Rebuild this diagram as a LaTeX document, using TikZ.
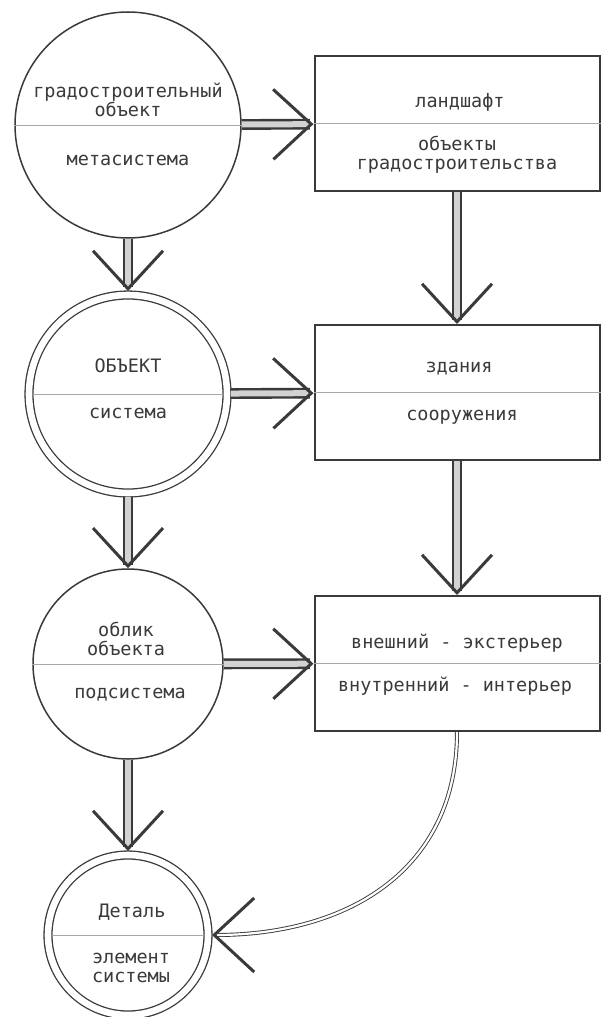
\documentclass[tikz,border=0pt]{standalone}
\usepackage{fontspec}
\newfontfamily\schemefont{DejaVu Sans Mono}
\usetikzlibrary{arrows.meta}
\definecolor{ink}{HTML}{3A3A3A}
\definecolor{rule}{HTML}{A8A8A8}
\tikzset{
  txt/.style={font=\schemefont\fontsize{18.5}{19}\selectfont, text=ink, align=center, inner sep=0pt},
  level/.style={circle, draw=ink, line width=1.5pt, inner sep=0pt},
  twin/.style={level, double, line width=1.3pt, double distance=6.6pt, outer sep=4pt},
  block/.style={rectangle, draw=ink, line width=2pt, minimum width=285pt, minimum height=135pt},
  divider/.style={draw=rule, line width=0.8pt},
  link/.style={draw=ink, line width=2.4pt, double=gray!35, double distance=6pt,
    -{Straight Barb[length=38pt, width=70pt, line width=3pt]}},
  thinlink/.style={draw=ink, line width=0.9pt, double=white, double distance=2.2pt,
    -{Straight Barb[length=40pt, width=74pt, line width=3pt]}},
}

\begin{document}
\begin{tikzpicture}[x=1pt, y=-1pt]
    \useasboundingbox (0,0) rectangle (604,1017);

    % Levels on the left
    \node[level, minimum size=226pt] (obj) at (128,125) {};
    \node[twin, minimum size=198pt] (sys) at (128,394) {};
    \node[level, minimum size=190pt] (look) at (128,664) {};
    \node[twin, minimum size=160pt] (part) at (128,935) {};

    % Blocks on the right
    \node[block] (land) at (457,123.5) {};
    \node[block] (build) at (457,392.5) {};
    \node[block] (face) at (457,663.5) {};

    % Dividers
    \foreach \n in {obj, look, land, build, face}
      \draw[divider] (\n.west) -- (\n.east);
    \foreach \n in {sys, part}
      \draw[divider] ([xshift=8pt]\n.west) -- ([xshift=-8pt]\n.east);

    % Labels
    \node[txt] (obj-a) at (128,99.5) {градостроительный\\объект};
    \node[txt] (obj-b) at (128,160) {метасистема};
    \node[txt] (land-a) at (460,102) {ландшафт};
    \node[txt] (land-b) at (457,154.5) {объекты\\градостроительства};
    \node[txt] (sys-a) at (128,366) {ОБЪЕКТ};
    \node[txt] (sys-b) at (128,413) {система};
    \node[txt] (build-a) at (459,369) {здания};
    \node[txt] (build-b) at (462,417) {сооружения};
    \node[txt] (look-a) at (126,639) {облик\\объекта};
    \node[txt] (look-b) at (130,695) {подсистема};
    \node[txt] (face-a) at (457,643) {внешний - экстерьер};
    \node[txt] (face-b) at (455,686) {внутренний - интерьер};
    \node[txt] (part-a) at (132,912) {Деталь};
    \node[txt] (part-b) at (131,968) {элемент\\системы};

    % Arrows
    \foreach \a/\b in {obj/land, sys/build, look/face, obj/sys, sys/look, look/part, land/build, build/face}
      \draw[link] (\a) -- (\b);
    \draw[thinlink] (face.south) to[out=-90, in=0, looseness=1.1] (part.east);
\end{tikzpicture}
\end{document}
